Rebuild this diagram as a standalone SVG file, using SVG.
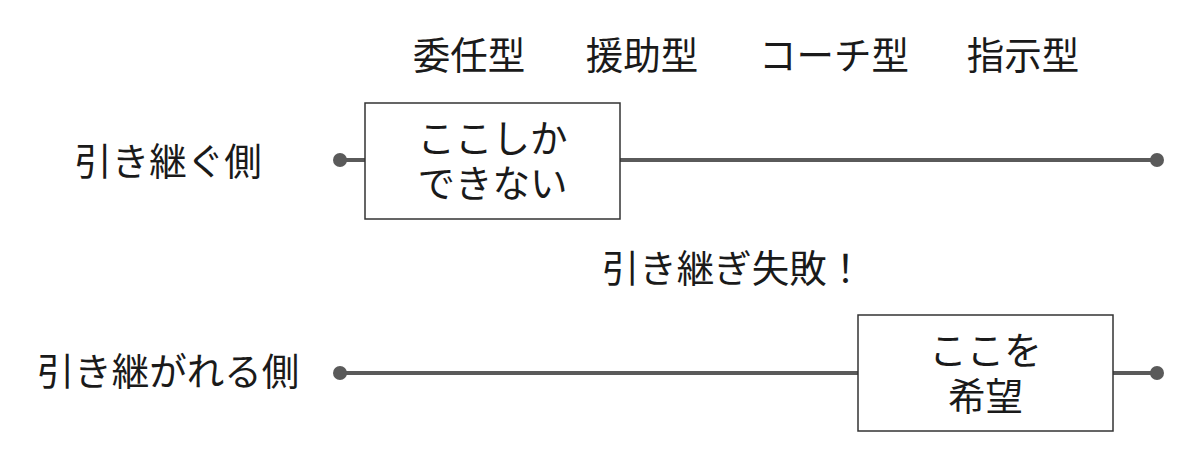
<svg xmlns="http://www.w3.org/2000/svg" width="1200" height="456" viewBox="0 0 1200 456">
<style>
text{font-family:"Noto Sans CJK JP","Noto Sans CJK SC",sans-serif;font-size:37.5px;fill:#1a1a1a;text-anchor:middle}
.line{stroke:#5a5a5a;stroke-width:4;fill:none}
.dot{fill:#5a5a5a}
.box{fill:#fff;stroke:#333;stroke-width:1.5}
</style>
<rect width="1200" height="456" fill="#fff"/>
<g id="headers">
<text x="469" y="69">委任型</text>
<text x="642" y="69">援助型</text>
<text x="834" y="69">コーチ型</text>
<text x="1023" y="69">指示型</text>
</g>
<g id="connectors">
<line class="line" x1="340" y1="160" x2="1157" y2="160"/>
<circle class="dot" cx="340" cy="160" r="7"/>
<circle class="dot" cx="1157" cy="160" r="7"/>
<line class="line" x1="340" y1="373" x2="1157" y2="373"/>
<circle class="dot" cx="340" cy="373" r="7"/>
<circle class="dot" cx="1157" cy="373" r="7"/>
</g>
<g id="label-giver"><text x="168" y="175">引き継ぐ側</text></g>
<g id="label-receiver"><text x="168" y="385">引き継がれる側</text></g>
<g id="label-fail"><text x="733" y="282">引き継ぎ失敗！</text></g>
<g id="box-giver">
<rect class="box" x="365" y="103" width="255" height="116"/>
<text x="492.5" y="152">ここしか<tspan x="492.5" dy="45">できない</tspan></text>
</g>
<g id="box-receiver">
<rect class="box" x="858" y="315" width="255" height="116"/>
<text x="985.5" y="364">ここを<tspan x="985.5" dy="46">希望</tspan></text>
</g>
</svg>
